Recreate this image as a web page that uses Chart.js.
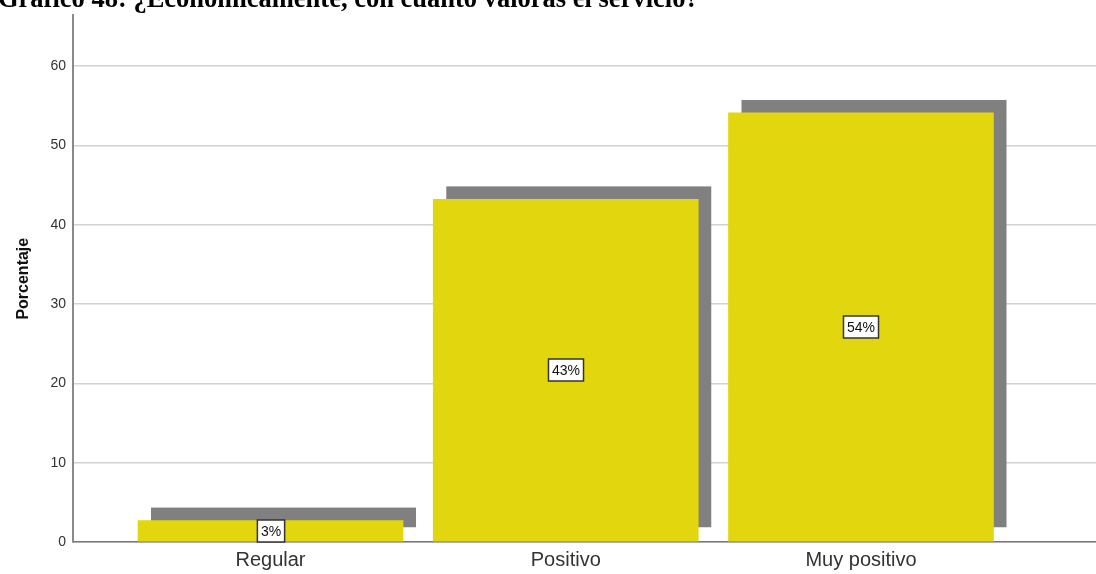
<!DOCTYPE html>
<html>
<head>
<meta charset="utf-8">
<script src="https://cdn.jsdelivr.net/npm/chart.js@4"></script>
<style>
  body { margin: 0; background: #fff; overflow: hidden; }
  #wrap { position: relative; width: 1096px; height: 574px; }
  #titulo {
    position: absolute; left: -2px; top: -15px;
    font: bold 26.5px "Liberation Serif", "Times New Roman", serif;
    line-height: 26px; color: #000; white-space: nowrap;
  }
</style>
</head>
<body>
<div id="wrap">
  <canvas id="bar_chart" width="1096" height="574"></canvas>
  <div id="titulo">Gráfico 48: ¿Económicamente, con cuánto valoras el servicio?</div>
</div>
<script>
    var categorias = ["Regular", "Positivo", "Muy positivo"];
    var porcentajes = [2.7, 43.2, 54.1];
    var etiquetas = ["3%", "43%", "54%"];
    var yTicks = [0, 10, 20, 30, 40, 50, 60];

    // barra gris desplazada detras de cada barra
    var sombraPlugin = {
        id: 'sombra',
        beforeDatasetsDraw: function(chart) {
            var ctx = chart.ctx;
            var meta = chart.getDatasetMeta(0);
            ctx.save();
            ctx.fillStyle = '#808080';
            meta.data.forEach(function(bar) {
                var p = bar.getProps(['x', 'y', 'base', 'width'], true);
                ctx.fillRect(p.x - p.width / 2 + 13, p.y - 13, p.width, p.base - p.y - 1);
            });
            ctx.restore();
        }
    };

    // etiquetas en caja blanca al centro de la barra
    var etiquetaPlugin = {
        id: 'etiquetas',
        afterDatasetsDraw: function(chart) {
            var ctx = chart.ctx;
            var meta = chart.getDatasetMeta(0);
            ctx.save();
            ctx.font = '14px "Liberation Sans", Arial, sans-serif';
            ctx.textAlign = 'center';
            ctx.textBaseline = 'middle';
            meta.data.forEach(function(bar, i) {
                var p = bar.getProps(['x', 'y', 'base'], true);
                var cy = Math.round((p.y + p.base) / 2);
                var cx = Math.round(p.x);
                var w = ctx.measureText(etiquetas[i]).width + 7;
                var h = 22;
                ctx.fillStyle = '#fff';
                ctx.fillRect(cx - w / 2, cy - h / 2, w, h);
                ctx.strokeStyle = '#333';
                ctx.lineWidth = 1.5;
                ctx.strokeRect(cx - w / 2, cy - h / 2, w, h);
                ctx.fillStyle = '#111';
                ctx.fillText(etiquetas[i], cx, cy + 1);
            });
            ctx.restore();
        }
    };

    var barData = {
        datasets: [{
            data: porcentajes.map(function(v, i) { return {x: i, y: v}; }),
            backgroundColor: '#e2d60e',
            borderWidth: 0,
            barThickness: 265
        }]
    };

    var barOptions = {
        responsive: false,
        animation: false,
        layout: { padding: { top: 14, right: 0, bottom: 0, left: 0 } },
        plugins: { legend: { display: false }, tooltip: { enabled: false } },
        scales: {
            x: {
                type: 'linear',
                offset: false,
                min: -0.669,
                max: 2.796,
                grid: { display: false, drawTicks: false, offset: false },
                border: { display: true, color: '#777', width: 1.5 },
                afterBuildTicks: function(scale) {
                    scale.ticks = categorias.map(function(c, i) { return {value: i}; });
                },
                afterFit: function(scale) { scale.height = 32; },
                ticks: {
                    padding: 6,
                    color: '#333',
                    font: { family: '"Liberation Sans", Arial, sans-serif', size: 20 },
                    callback: function(v) { return categorias[v]; }
                }
            },
            y: {
                min: 0,
                max: 66.4,
                afterBuildTicks: function(scale) {
                    scale.ticks = yTicks.map(function(v) { return {value: v}; });
                },
                afterFit: function(scale) { scale.width = 73; },
                grid: { color: '#d2d2d2', lineWidth: 1.5, drawTicks: false },
                border: { display: true, color: '#8a8a8a', width: 2 },
                ticks: {
                    padding: 7,
                    color: '#333',
                    font: { family: '"Liberation Sans", Arial, sans-serif', size: 14 }
                },
                title: {
                    display: true,
                    text: 'Porcentaje',
                    color: '#111',
                    padding: { top: 14, bottom: 0 },
                    font: { family: '"Liberation Sans", Arial, sans-serif', size: 16, weight: 'bold' }
                }
            }
        }
    };

    var ctx = document.getElementById("bar_chart").getContext("2d");
    new Chart(ctx, {type: 'bar', data: barData, options: barOptions, plugins: [sombraPlugin, etiquetaPlugin]});
</script>
</body>
</html>
